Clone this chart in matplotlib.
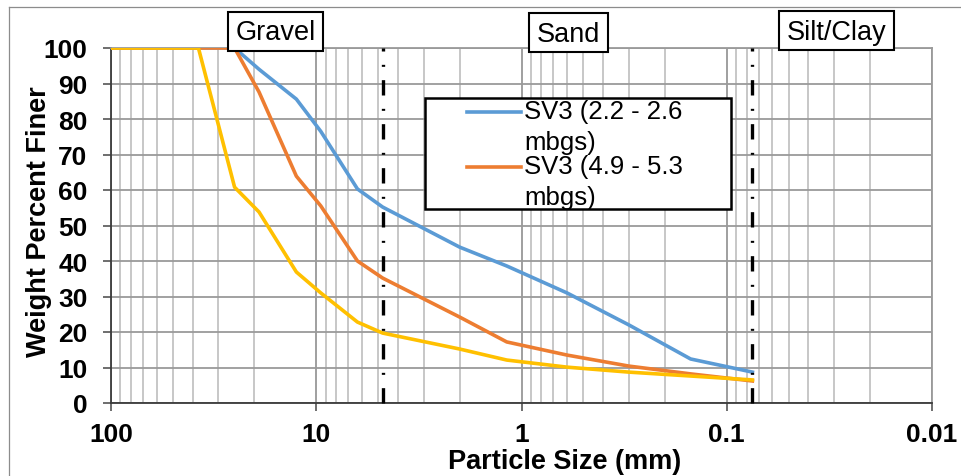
import matplotlib.pyplot as plt
from matplotlib.patches import Rectangle
from matplotlib.lines import Line2D
from matplotlib.ticker import FixedLocator, LogLocator, NullFormatter

# sieve sizes (mm) and percent passing
sizes = [100, 37.5, 25, 19, 12.5, 9.5, 6.3, 4.75, 2.0, 1.18, 0.6, 0.3, 0.15, 0.075]
sv3_shallow = [100, 100, 100, 94, 85.6, 76.5, 60.3, 55.2, 43.9, 38.6, 31, 22, 12.4, 8.7]
sv3_deep = [100, 100, 100, 87.6, 63.9, 55.5, 40, 35.2, 24.2, 17.2, 13.5, 10.4, 8.2, 6.2]
third = [100, 100, 60.8, 53.8, 36.9, 31, 22.8, 19.7, 15.2, 12.1, 10.1, 8.7, 7.6, 6.5]

labels = ['SV3 (2.2 - 2.6\nmbgs)', 'SV3 (4.9 - 5.3\nmbgs)']
colors = ['#5B9BD5', '#ED7D31', '#FFC000']

boundaries = [4.75, 0.075]  # gravel/sand and sand/silt limits
zones = ['Gravel', 'Sand', 'Silt/Clay']

x_ticks = [100, 10, 1, 0.1, 0.01]
x_tick_labels = ['100', '10', '1', '0.1', '0.01']
y_ticks = list(range(0, 101, 10))

W, H = 962, 477
plt.rcParams['font.family'] = ['Liberation Sans', 'DejaVu Sans']

fig = plt.figure(figsize=(W / 100, H / 100), dpi=100)
ax = fig.add_axes([111 / W, 1 - 404 / H, 821 / W, 355 / H])


def fx(px):
    return px / W


def fy(py):
    return 1 - py / H


# outer chart-area border (only top and left edges visible)
fig.add_artist(Line2D([fx(9), 1], [fy(8), fy(8)], color='#8c8c8c', lw=0.9))
fig.add_artist(Line2D([fx(9), fx(9)], [fy(8), 0], color='#8c8c8c', lw=0.9))

ax.set_xscale('log')
ax.set_xlim(100, 0.01)
ax.set_ylim(0, 100)

# grid
ax.xaxis.set_major_locator(FixedLocator(x_ticks))
ax.xaxis.set_minor_locator(LogLocator(base=10, subs=range(2, 10)))
ax.xaxis.set_minor_formatter(NullFormatter())
ax.set_xticks(x_ticks)
ax.set_xticklabels(x_tick_labels)
ax.set_yticks(y_ticks)
ax.grid(which='major', axis='x', color='#858585', lw=1.1, zorder=0)
ax.grid(which='minor', axis='x', color='#bdbdbd', lw=1.2, zorder=0)
ax.grid(which='major', axis='y', color='#9a9a9a', lw=1.3, zorder=0)
ax.set_axisbelow(True)

for side in ['top', 'right']:
    ax.spines[side].set_color('#9a9a9a')
    ax.spines[side].set_linewidth(1.3)
for side in ['left', 'bottom']:
    ax.spines[side].set_color('#3a3a3a')
    ax.spines[side].set_linewidth(1.3)

ax.tick_params(axis='both', which='major', length=6, width=1.2, color='#555555',
               labelsize=19)
ax.tick_params(axis='x', which='major', pad=8)
ax.tick_params(axis='y', which='major', pad=11)
ax.tick_params(axis='x', which='minor', length=0)
for lab in ax.get_xticklabels() + ax.get_yticklabels():
    lab.set_fontweight('bold')

# curves
ax.plot(sizes, sv3_shallow, color=colors[0], lw=2.6, zorder=3)
ax.plot(sizes, sv3_deep, color=colors[1], lw=2.6, zorder=4)
ax.plot(sizes, third, color=colors[2], lw=2.6, zorder=5)

# soil boundaries
for b in boundaries:
    ax.axvline(b, color='black', lw=2.4, zorder=6,
               linestyle=(0, (4.6, 4.0, 0.6, 4.0)), clip_on=False)

ax.set_xlabel('Particle Size (mm)', fontsize=19.5, fontweight='bold')
ax.xaxis.set_label_coords((565 - 111) / 821, -(449 - 404) / 355)
ax.xaxis.label.set_va('top')
ax.set_ylabel('Weight Percent Finer', fontsize=19.5, fontweight='bold')
ax.yaxis.set_label_coords((52 - 111) / 821, (404 - 222) / 355)

# zone label boxes
zone_boxes = [(228, 13, 323, 52), (529, 14, 608, 53), (779, 12, 894, 51)]
for name, (x0, y0, x1, y1) in zip(zones, zone_boxes):
    fig.add_artist(Rectangle((fx(x0), fy(y1)), fx(x1 - x0), (y1 - y0) / H,
                             transform=fig.transFigure, facecolor='white',
                             edgecolor='black', lw=1.5, zorder=10))
    fig.text(fx((x0 + x1) / 2), fy((y0 + y1) / 2 + 1), name, ha='center', va='center',
             fontsize=19.5, zorder=11)

# legend drawn by hand so the text can overflow like the original
fig.add_artist(Rectangle((fx(425), fy(210)), fx(731 - 425), (210 - 99) / H,
                         transform=fig.transFigure, facecolor='white',
                         edgecolor='black', lw=1.8, zorder=10))
for lab, col, hy, base in zip(labels, colors, [112.5, 167.5], [150, 205]):
    fig.add_artist(Line2D([fx(467), fx(521)], [fy(hy), fy(hy)], color=col, lw=2.6,
                          zorder=11))
    fig.text(fx(524), fy(base), lab, ha='left', va='baseline', fontsize=18.5,
             linespacing=1.38, zorder=12)

fig.savefig('out.png', dpi=100)
